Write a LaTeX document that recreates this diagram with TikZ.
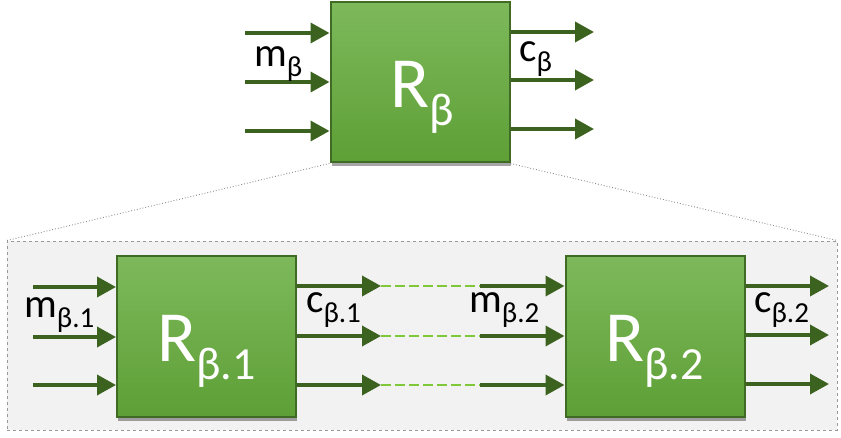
\documentclass[tikz,border=0pt]{standalone}
\usepackage{fontspec}
\setmainfont{Carlito}
\usetikzlibrary{arrows.meta,shadows,calc}
\definecolor{boxtop}{HTML}{7DB95B}
\definecolor{boxbot}{HTML}{5E9F36}
\definecolor{boxedge}{HTML}{3F6B24}
\definecolor{arr}{HTML}{3C6220}
\definecolor{dgreen}{HTML}{7EC83A}
\definecolor{panelfill}{HTML}{F2F2F2}
\newcommand{\sigl}[2]{{\fontsize{41}{41}\selectfont #1\raisebox{-10pt}{\fontsize{29}{29}\selectfont #2}}}
\newcommand{\blkl}[2]{{\fontsize{72}{72}\selectfont #1\raisebox{-18pt}{\fontsize{46}{46}\selectfont #2}}}
\begin{document}
\begin{tikzpicture}[x=1pt,y=-1pt,
  block/.style={draw=boxedge,line width=2pt,top color=boxtop,bottom color=boxbot,
    minimum width=179pt,minimum height=160pt,inner sep=0pt,
    drop shadow={shadow xshift=1pt,shadow yshift=-4pt,opacity=0.35,fill=black}},
  blocktext/.style={anchor=base west,text=white,inner sep=0pt},
  sigtext/.style={anchor=base west,text=black,inner sep=0pt},
  sig/.style={draw=arr,line width=3.7pt,-{Triangle[length=19pt,width=20pt]}},
  link/.style={draw=dgreen,line width=2pt,dash pattern=on 10pt off 4pt},
  zoomline/.style={draw=black!45,line width=0.9pt,dotted},
  panelbox/.style={draw=black!40,line width=0.8pt,dashed,fill=panelfill,
    minimum width=830pt,minimum height=189pt,inner sep=0pt}]
\useasboundingbox (0,0) rectangle (841,438);

% panel
\node[panelbox] (pan) at (422,335.5) {};

% top block
\node[block] (top) at (420,82.5) {};
\draw[zoomline] (top.south west) -- (pan.north west);
\draw[zoomline] (top.south east) -- (pan.north east);
\node[blocktext] (topl) at ($(top.center)+(-30,25.5)$) {\blkl{R}{β}};

% top arrows
\coordinate (ti1) at (245,33);
\coordinate (ti2) at (245,82);
\coordinate (ti3) at (245,131);
\coordinate (to1) at (594,32);
\coordinate (to2) at (594,80);
\coordinate (to3) at (594,129);
\foreach \i in {1,2,3}{
  \draw[sig] (ti\i) -- (ti\i -| top.west);
  \draw[sig] (to\i -| top.east) -- (to\i);
}
\node[sigtext] (mtop) at (254,67) {\sigl{m}{β}};
\node[sigtext] (ctop) at (519,62) {\sigl{c}{β}};

% bottom blocks
\node[block] (b1) at (206.5,336.5) {};
\node[block] (b2) at (655,336.5) {};
\node[blocktext] (b1l) at ($(b1.center)+(-49.5,25.5)$) {\blkl{R}{β.1}};
\node[blocktext] (b2l) at ($(b2.center)+(-50,25.5)$) {\blkl{R}{β.2}};

\coordinate (a1) at (33,287);
\coordinate (a2) at (33,337);
\coordinate (a3) at (33,385);
\coordinate (o1) at (381,286);
\coordinate (o2) at (381,336);
\coordinate (o3) at (381,385);
\coordinate (p1) at (480,286);
\coordinate (p2) at (480,336);
\coordinate (p3) at (480,385);
\coordinate (q1) at (829,286);
\coordinate (q2) at (829,335);
\coordinate (q3) at (829,384);
\foreach \i in {1,2,3}{
  \draw[sig] (a\i) -- (a\i -| b1.west);
  \draw[sig] (o\i -| b1.east) -- (o\i);
  \draw[link] (o\i) -- (p\i);
  \draw[sig] (p\i) -- (p\i -| b2.west);
  \draw[sig] (q\i -| b2.east) -- (q\i);
}
\node[sigtext] (m1) at (24,318) {\sigl{m}{β.1}};
\node[sigtext] (c1) at (306,313) {\sigl{c}{β.1}};
\node[sigtext] (m2) at (469,313) {\sigl{m}{β.2}};
\node[sigtext] (c2) at (754,313) {\sigl{c}{β.2}};
\end{tikzpicture}
\end{document}
